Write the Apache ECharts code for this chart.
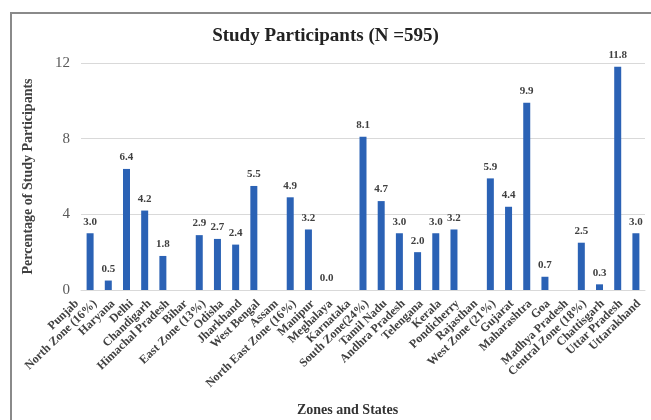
<!DOCTYPE html>
<html>
<head>
<meta charset="utf-8">
<script src="https://cdn.jsdelivr.net/npm/echarts@6/dist/echarts.min.js"></script>
<style>
html,body{margin:0;padding:0;background:#fff;}
#bar{width:651px;height:420px;}
</style>
</head>
<body>
<div id="bar"></div>
<script>
// bar slots, the zone names are the empty slots between the groups
var categories = ['Punjab','Haryana','Delhi','Chandigarh','Himachal Pradesh','North Zone (16%)',
  'Bihar','Odisha','Jharkhand','West Bengal','East Zone (13%)',
  'Assam','Manipur','Meghalaya','North East Zone (16%)',
  'Karnataka','Tamil Nadu','Andhra Pradesh','Telengana','Kerala','Pondicherry','South Zone(24%)',
  'Rajasthan','Gujarat','Maharashtra','Goa','West Zone (21%)',
  'Madhya Pradesh','Chattisgarh','Uttar Pradesh','Uttarakhand'];
var values = [3.0,0.5,6.4,4.2,1.8,null,
  2.9,2.7,2.4,5.5,null,
  4.9,3.2,0.0,null,
  8.1,4.7,3.0,2.0,3.0,3.2,null,
  5.9,4.4,9.9,0.7,null,
  2.5,0.3,11.8,3.0];
// axis labels as they are printed under the chart
var tickLabels = ['Punjab','North Zone (16%)','Haryana','Delhi','Chandigarh','Himachal Pradesh','Bihar',
  'East Zone (13%)','Odisha','Jharkhand','West Bengal','Assam','North East Zone (16%)','Manipur',
  'Meghalaya','Karnataka','South Zone(24%)','Tamil Nadu','Andhra Pradesh','Telengana','Kerala',
  'Pondicherry','Rajasthan','West Zone (21%)','Gujarat','Maharashtra','Goa','Madhya Pradesh',
  'Central Zone (18%)','Chattisgarh','Uttar Pradesh','Uttarakhand'];
var yTicks = [0,4,8,12];

var serif = 'Liberation Serif';
var myChart = echarts.init(document.getElementById('bar'));

var option = {
    animation:false,
    title: {
        text: 'Study Participants (N =595)',
        left: 'center',
        top: 22,
        textStyle: {fontFamily: serif, fontWeight: 'bold', fontSize: 19, color: '#222'}
    },
    graphic: [{
        type: 'rect',
        shape: {x: 11, y: 13, width: 700, height: 440},
        style: {fill: 'none', stroke: '#8a8a8a', lineWidth: 2}
    }, {
        type: 'text',
        left: 297, top: 403,
        style: {text: 'Zones and States', font: 'bold 14px "Liberation Serif"', fill: '#333'}
    }],
    grid: [
        {left: 81, right: 6, top: 63, bottom: 130},
        {left: 77, right: 12, top: 63, bottom: 130}
    ],
    xAxis: [{
        type: 'category',
        data: categories,
        gridIndex: 0,
        axisLine: {lineStyle: {color: '#d9d9d9'}},
        axisTick: {show: false},
        axisLabel: {show: false}
    }, {
        type: 'category',
        data: tickLabels,
        gridIndex: 1,
        boundaryGap: false,
        axisLine: {show: false},
        axisTick: {show: false},
        axisLabel: {
            interval: 0,
            rotate: 44,
            margin: 12,
            fontFamily: serif,
            fontWeight: 'bold',
            fontSize: 12,
            color: '#404040'
        }
    }],
    yAxis: [{
        type: 'value',
        gridIndex: 0,
        min: yTicks[0],
        max: yTicks[yTicks.length - 1],
        interval: 4,
        name: 'Percentage of Study Participants',
        nameLocation: 'middle',
        nameGap: 46,
        nameTextStyle: {fontFamily: serif, fontWeight: 'bold', fontSize: 14, color: '#404040'},
        axisLabel: {fontFamily: serif, fontSize: 15, color: '#595959', margin: 11},
        splitLine: {lineStyle: {color: '#d9d9d9'}}
    }, {
        type: 'value',
        gridIndex: 1,
        show: false
    }],
    series: [{
        type: 'bar',
        data: values,
        barWidth: 7,
        itemStyle: {color: '#2b62b5'},
        label: {
            show: true,
            position: 'top',
            distance: 6,
            formatter: function(p){ return p.value.toFixed(1); },
            fontFamily: serif,
            fontWeight: 'bold',
            fontSize: 11,
            color: '#404040'
        }
    }]
};

myChart.setOption(option);
</script>
</body>
</html>
